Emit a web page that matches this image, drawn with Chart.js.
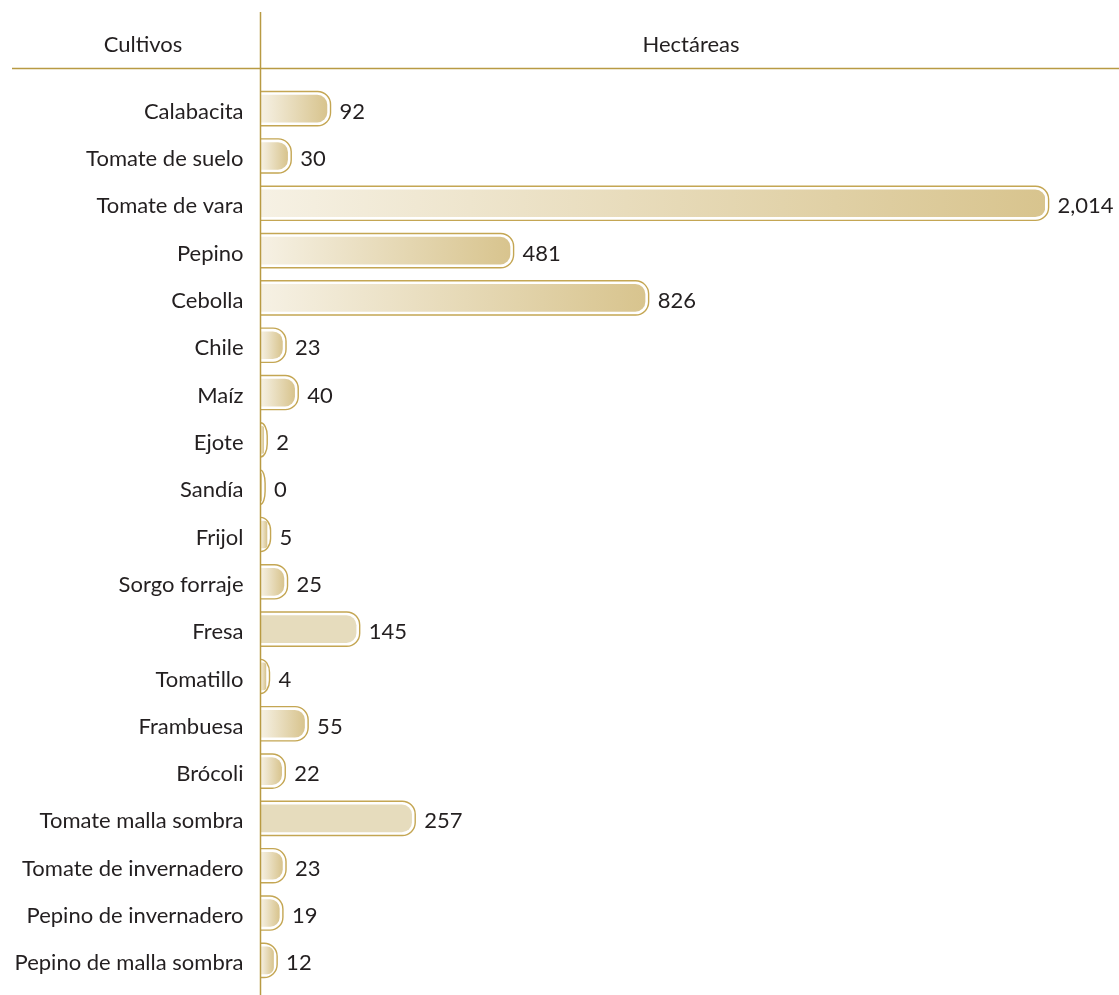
<!DOCTYPE html>
<html lang="es">
<head>
<meta charset="utf-8">
<script src="https://cdn.jsdelivr.net/npm/chart.js@4.4.1/dist/chart.umd.min.js"></script>
<style>
  html, body { margin: 0; padding: 0; background: #fff; }
  #wrap { position: relative; width: 1119px; height: 995px; }
</style>
</head>
<body>
<div id="wrap"><canvas id="chartCultivos"></canvas></div>
<script>
'use strict';

// Datos
const cultivos = [
  'Calabacita', 'Tomate de suelo', 'Tomate de vara', 'Pepino', 'Cebolla',
  'Chile', 'Maíz', 'Ejote', 'Sandía', 'Frijol', 'Sorgo forraje', 'Fresa',
  'Tomatillo', 'Frambuesa', 'Brócoli', 'Tomate malla sombra',
  'Tomate de invernadero', 'Pepino de invernadero', 'Pepino de malla sombra',
];
const hectareas = [92, 30, 2014, 481, 826, 23, 40, 2, 0, 5, 25, 145, 4, 55, 22, 257, 23, 19, 12];
const encabezados = ['Cultivos', 'Hectáreas'];

// Barras con relleno plano (sin degradado)
const cultivosTonoPlano = ['Fresa', 'Tomate malla sombra'];

const ORO      = '#b89a43';
const CONTORNO = '#c4a653';
const TEXTO    = '#231f20';
const CLARO    = '#f6f1e4';
const OSCURO   = '#d8c48e';
const PLANO    = '#e6dcbd';
const FUENTE   = "Lato, 'Open Sans', sans-serif";
const TAM      = 22;

Chart.defaults.font.family = FUENTE;
Chart.defaults.color = TEXTO;

// Escala de potencia: el gráfico original no es lineal
const EXP = 0.8;
class EscalaPotencia extends Chart.LinearScale {
  getPixelForValue(v) {
    if (v === null || v === undefined) return NaN;
    const t = Math.pow(Math.max(v - this.min, 0) / (this.max - this.min), EXP);
    return this.getPixelForDecimal(t);
  }
  getValueForPixel(p) {
    return this.min + Math.pow(Math.max(this.getDecimalForPixel(p), 0), 1 / EXP) * (this.max - this.min);
  }
}
EscalaPotencia.id = 'potencia';
EscalaPotencia.defaults = Chart.LinearScale.defaults;
Chart.register(EscalaPotencia);

const fmt = (n) => n.toLocaleString('en-US');

function rellenoBarra(ctx) {
  const chart = ctx.chart;
  const area = chart.chartArea;
  if (!area || ctx.type !== 'data') return OSCURO;
  if (cultivosTonoPlano.includes(cultivos[ctx.dataIndex])) return PLANO;
  const x0 = area.left;
  const x1 = chart.scales.x.getPixelForValue(ctx.raw);
  if (!isFinite(x1) || x1 - x0 < 2) return OSCURO;
  const g = chart.ctx.createLinearGradient(x0, 0, x1, 0);
  g.addColorStop(0, CLARO);
  g.addColorStop(1, OSCURO);
  return g;
}

// Encabezado, líneas guía, contornos y etiquetas de valor
const decoracion = {
  id: 'decoracion',
  afterDatasetsDraw(chart) {
    const c = chart.ctx;
    const area = chart.chartArea;
    const meta = chart.getDatasetMeta(0);
    const off = 3.6, R = 13;

    c.save();
    // contorno doble de cada barra
    c.strokeStyle = CONTORNO;
    c.lineWidth = 1.4;
    meta.data.forEach((bar) => {
      const h = bar.height;
      const x0 = area.left;
      const x1 = Math.max(bar.x, x0) + off;
      const y0 = bar.y - h / 2 - off;
      const y1 = bar.y + h / 2 + off;
      const rx = Math.min(R, x1 - x0);
      const ry = Math.min(R, (y1 - y0) / 2);
      c.beginPath();
      c.moveTo(x0, y0);
      c.lineTo(x1 - rx, y0);
      c.ellipse(x1 - rx, y0 + ry, rx, ry, 0, -Math.PI / 2, 0);
      c.lineTo(x1, y1 - ry);
      c.ellipse(x1 - rx, y1 - ry, rx, ry, 0, 0, Math.PI / 2);
      c.lineTo(x0, y1);
      c.stroke();
    });

    // valores
    c.fillStyle = TEXTO;
    c.font = TAM + 'px ' + FUENTE;
    c.textAlign = 'left';
    c.textBaseline = 'middle';
    meta.data.forEach((bar, i) => {
      const x = Math.max(bar.x, area.left) + off + 9;
      c.fillText(fmt(hectareas[i]), x, bar.y + 3);
    });

    // encabezados
    c.textAlign = 'center';
    c.fillText(encabezados[0], 143, 45);
    c.fillText(encabezados[1], 691, 45);

    // líneas
    c.strokeStyle = ORO;
    c.lineWidth = 1.5;
    c.beginPath();
    c.moveTo(12, 68.5);
    c.lineTo(chart.width, 68.5);
    c.moveTo(area.left, 12);
    c.lineTo(area.left, chart.height);
    c.stroke();
    c.restore();
  },
};

new Chart(document.getElementById('chartCultivos'), {
  type: 'bar',
  data: {
    labels: cultivos,
    datasets: [{
      data: hectareas,
      backgroundColor: rellenoBarra,
      borderWidth: 0,
      borderRadius: { topLeft: 0, bottomLeft: 0, topRight: 10, bottomRight: 10 },
      borderSkipped: 'start',
      barThickness: 27,
      minBarLength: 1,
    }],
  },
  options: {
    indexAxis: 'y',
    responsive: true,
    maintainAspectRatio: false,
    animation: false,
    layout: { padding: { left: 0, right: 74, top: 85, bottom: 11 } },
    plugins: { legend: { display: false }, tooltip: { enabled: false } },
    scales: {
      x: { type: 'potencia', min: 0, max: Math.max(...hectareas), display: false },
      y: {
        grid: { display: false, drawTicks: false },
        border: { display: false },
        ticks: { padding: 17, labelOffset: 3, font: { size: TAM }, color: TEXTO },
        afterFit(scale) {
          scale.width = 260.5;
          scale.paddingTop = 0;
          scale.paddingBottom = 0;
        },
      },
    },
  },
  plugins: [decoracion],
});
</script>
</body>
</html>
